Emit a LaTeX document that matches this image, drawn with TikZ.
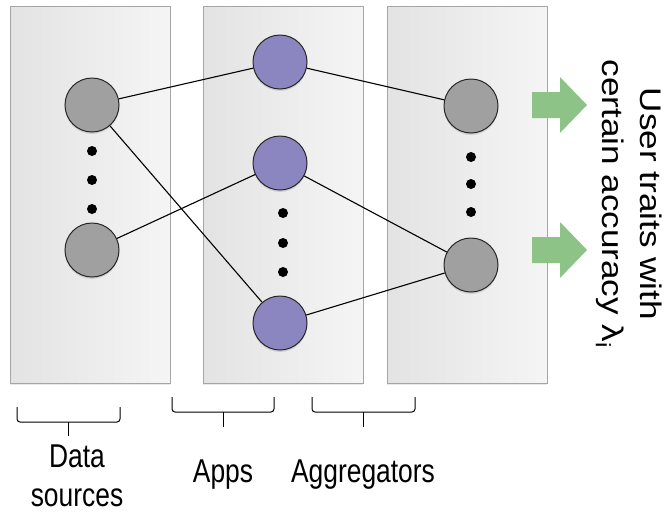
\documentclass[tikz,border=0pt]{standalone}
\usepackage{fontspec}
\setmainfont{Liberation Sans}
\newfontfamily\narrowfont[FakeStretch=0.8]{Liberation Sans}
\newfontfamily\widefont[FakeStretch=1.18]{Liberation Sans}
\usetikzlibrary{shadows}

\definecolor{panelgray}{RGB}{165,165,165}
\definecolor{nodegray}{RGB}{160,160,160}
\definecolor{apppurple}{RGB}{139,133,192}
\definecolor{outgreen}{RGB}{141,195,134}

\tikzset{
    panel/.style={draw=panelgray, line width=1pt, left color=black!11, right color=black!4,
        minimum width=160pt, minimum height=377pt, inner sep=0pt,
        drop shadow={opacity=0.18, shadow xshift=0pt, shadow yshift=-2pt}},
    unit/.style={circle, draw=black!85, line width=1pt, minimum size=54pt, inner sep=0pt,
        drop shadow={opacity=0.25, shadow xshift=0pt, shadow yshift=-2pt}},
    srcnode/.style={unit, fill=nodegray},
    appnode/.style={unit, fill=apppurple},
    aggnode/.style={unit, fill=nodegray},
    dotnode/.style={circle, fill=black, minimum size=10pt, inner sep=0pt},
    link/.style={line width=1.1pt, black},
    bracket/.style={line width=1pt, rounded corners=3pt},
    caption/.style={font=\narrowfont\fontsize{33}{39}\selectfont, inner sep=0pt, align=center},
}

\begin{document}
\begin{tikzpicture}[x=1pt,y=-1pt]
    \useasboundingbox (0,0) rectangle (664,512);

    % the three columns
    \node[panel] (srcbox) at (90,194.5) {};
    \node[panel] (appbox) at (283,194.5) {};
    \node[panel] (aggbox) at (467,194.5) {};

    % data sources
    \node[srcnode] (src1) at (92,105) {};
    \node[srcnode] (src2) at (92,250) {};
    \foreach \y in {151,180,209}
        \node[dotnode] at (92,\y) {};

    % apps
    \node[appnode] (app1) at (280,62) {};
    \node[appnode] (app2) at (280,163) {};
    \node[appnode] (app3) at (280,323) {};
    \foreach \y in {213,243,272}
        \node[dotnode] at (283,\y) {};

    % aggregators
    \node[aggnode] (agg1) at (471,106) {};
    \node[aggnode] (agg2) at (471,265) {};
    \foreach \y in {157,184,212}
        \node[dotnode] at (471,\y) {};

    % links
    \draw[link] (src1) -- (app1);
    \draw[link] (src1) -- (app3);
    \draw[link] (src2) -- (app2);
    \draw[link] (app1) -- (agg1);
    \draw[link] (app2) -- (agg2);
    \draw[link] (app3) -- (agg2);

    % outputs
    \coordinate (out1) at (532,105);
    \coordinate (out2) at (532,250);
    \foreach \o in {out1,out2}
        \fill[outgreen] (\o) ++(0,-13) -- ++(28,0) -- ++(0,-15) -- ++(27,28)
            -- ++(-27,28) -- ++(0,-15) -- ++(-28,0) -- cycle;
    \node[font=\widefont\fontsize{29.75}{38}\selectfont, rotate=-90, align=center, inner sep=0pt]
        (traits) at (629,204) {User traits with\\certain accuracy λ\textsubscript{i}};

    % brackets
    \draw[bracket] (17,407) -- (17,422) -- (120,422) -- (120,407);
    \draw[bracket] (68.5,422) -- (68.5,436);
    \draw[bracket] (172,397) -- (172,412) -- (274,412) -- (274,397);
    \draw[bracket] (223,412) -- (223,427);
    \draw[bracket] (312,397) -- (312,412) -- (415,412) -- (415,397);
    \draw[bracket] (363.5,412) -- (363.5,427);

    % captions
    \node[caption] (srclabel) at (77,475.5) {Data\\sources};
    \node[caption, anchor=base] (applabel) at (223,482) {Apps};
    \node[caption, anchor=base] (agglabel) at (363,482) {Aggregators};
\end{tikzpicture}
\end{document}
